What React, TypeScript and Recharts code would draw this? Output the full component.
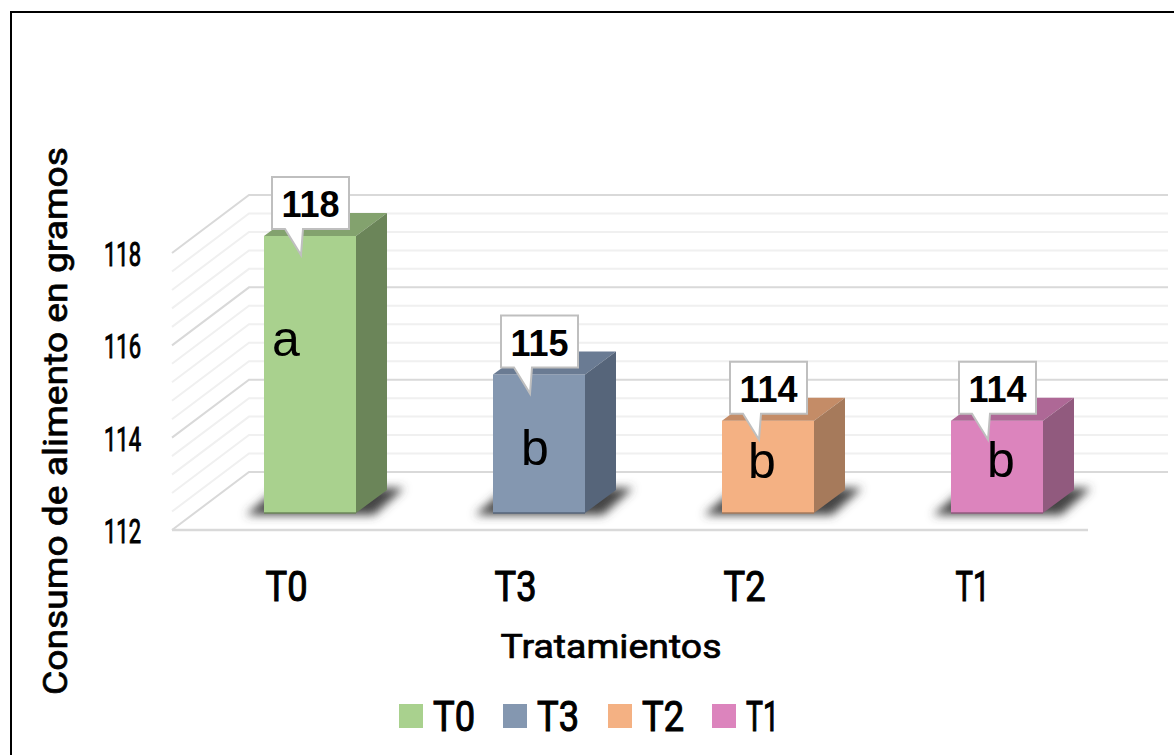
import { Bar, CartesianGrid, ComposedChart, LabelList, Legend, XAxis, YAxis } from "recharts";

const categories = ["T0", "T3", "T2", "T1"];
const consumo = [118, 115, 114, 114];
const letras = ["a", "b", "b", "b"];
const yTicks = [
  112, 112.4, 112.8, 113.2, 113.6, 114, 114.4, 114.8, 115.2, 115.6, 116, 116.4,
  116.8, 117.2, 117.6, 118,
];
const majorTicks = [112, 114, 116, 118];

const frontColors = ["#A9D18E", "#8497B0", "#F4B183", "#DC84BD"];
const topColors = ["#83A26E", "#6A7B93", "#C48C67", "#AE6896"];
const sideColors = ["#6B8559", "#56657A", "#A67A5B", "#915A7E"];

// where the letter sits, relative to the top centre of the bar
const letterOffsets = [
  { dx: -24, dy: 120 },
  { dx: -4, dy: 90 },
  { dx: -6, dy: 57 },
  { dx: 4, dy: 56 },
];

const data = categories.map((name, i) => ({ name, consumo: consumo[i] }));

const PLOT_LEFT = 195;
const PLOT_RIGHT = 1111;
const PLOT_BOTTOM = 513;
const FONT = "Roboto, sans-serif";

// the grid line is drawn as a 3D wall: side wall then back wall
function WallLine({ y1, index }: any) {
  const major = index % 5 === 0;
  const stroke = major ? "#D9D9D9" : "#F0F0F0";
  const frontY = y1 + 17;
  const backY = y1 - 41;
  return (
    <g>
      <polyline
        points={`${PLOT_LEFT - 23},${frontY} ${PLOT_LEFT + 54},${backY} ${PLOT_RIGHT + 57},${backY}`}
        fill="none"
        stroke={stroke}
        strokeWidth={2}
      />
      {y1 >= PLOT_BOTTOM - 2 && (
        <line
          x1={PLOT_LEFT - 23}
          y1={frontY}
          x2={PLOT_RIGHT - 23}
          y2={frontY}
          stroke={stroke}
          strokeWidth={2.5}
        />
      )}
    </g>
  );
}

function ValueTick({ y, payload }: any) {
  if (!majorTicks.includes(payload.value)) return <g />;
  return (
    <text
      x={141}
      y={y + 30}
      textAnchor="end"
      fontFamily={FONT}
      fontWeight={400}
      fontSize={33}
      textLength={37}
      lengthAdjust="spacingAndGlyphs"
      stroke="#000"
      strokeWidth={1}
      fill="#000"
    >
      {payload.value}
    </text>
  );
}

function CategoryTick({ x, y, payload }: any) {
  return (
    <text
      x={x - 23 + (payload.value === "T1" ? -1 : 0)}
      y={y + 80}
      textAnchor="middle"
      fontFamily={FONT}
      fontWeight={400}
      fontSize={42}
      textLength={payload.value === "T1" ? 34 : 42}
      lengthAdjust="spacingAndGlyphs"
      stroke="#000"
      strokeWidth={1.1}
      fill="#000"
    >
      {payload.value}
    </text>
  );
}

function Bar3D({ x, y, width, height, index }: any) {
  const dx = 31;
  const dy = 23;
  const bottom = y + height;
  const right = x + width;
  const off = letterOffsets[index];
  return (
    <g>
      <polygon
        points={`${x - 18},${bottom + 2} ${right + 18},${bottom + 2} ${right + 48},${bottom - 25} ${x + 14},${bottom - 25}`}
        fill="#444"
        filter="url(#floorShadow)"
      />
      <rect x={x} y={y} width={width} height={height} fill={frontColors[index]} />
      <line x1={x} y1={bottom} x2={right} y2={bottom} stroke={sideColors[index]} strokeWidth={1.5} />
      <polygon
        points={`${x},${y} ${x + dx},${y - dy} ${right + dx},${y - dy} ${right},${y}`}
        fill={topColors[index]}
      />
      <polygon
        points={`${right},${y} ${right + dx},${y - dy} ${right + dx},${bottom - dy} ${right},${bottom}`}
        fill={sideColors[index]}
      />
      <text
        x={x + width / 2 + off.dx}
        y={y + off.dy}
        textAnchor="middle"
        fontFamily="'Liberation Sans', Arial, sans-serif"
        fontSize={50}
        fill="#000"
      >
        {letras[index]}
      </text>
    </g>
  );
}

function Callout({ x, y, value }: any) {
  const l = x + 8;
  const r = x + 85;
  const t = y - 59;
  const b = y - 7;
  return (
    <g>
      <polygon
        points={`${l},${t} ${r},${t} ${r},${b} ${x + 39},${b} ${x + 37},${y + 19} ${x + 21},${b} ${l},${b}`}
        fill="#fff"
        stroke="#BFBFBF"
        strokeWidth={2}
      />
      <text
        x={(l + r) / 2}
        y={y - 19}
        textAnchor="middle"
        fontFamily="'Liberation Sans', Arial, sans-serif"
        fontWeight={700}
        fontSize={36}
        fill="#000"
      >
        {value}
      </text>
    </g>
  );
}

function LegendRow() {
  return (
    <div style={{ display: "flex", alignItems: "center", height: 40, fontFamily: FONT }}>
      {categories.map((name, i) => (
        <div key={name} style={{ display: "flex", alignItems: "center", width: 104.3, height: 40 }}>
          <div style={{ width: 24, height: 24, background: frontColors[i], marginRight: 9 }} />
          <svg width={60} height={60} style={{ flex: "none", overflow: "visible" }}>
            <text
              x={1}
              y={45}
              fontFamily={FONT}
              fontWeight={400}
              fontSize={42}
              textLength={name === "T1" ? 33 : 42}
              lengthAdjust="spacingAndGlyphs"
              stroke="#000"
              strokeWidth={1.1}
              fill="#000"
            >
              {name}
            </text>
          </svg>
        </div>
      ))}
    </div>
  );
}

export default function App() {
  return (
    <div style={{ position: "absolute", left: 0, top: 0, width: 1174, height: 755, overflow: "hidden", background: "#fff" }}>
      <div
        style={{
          position: "absolute",
          left: 10,
          top: 11,
          width: 1200,
          height: 800,
          borderTop: "2px solid #000",
          borderLeft: "2px solid #000",
        }}
      />
      <ComposedChart
        width={1174}
        height={755}
        data={data}
        margin={{ top: 236, right: 63, bottom: 0, left: 0 }}
        style={{ position: "absolute", left: 0, top: 0 }}
      >
        <defs>
          <filter id="floorShadow" x="-30%" y="-60%" width="160%" height="220%">
            <feGaussianBlur stdDeviation="5" />
          </filter>
        </defs>
        <CartesianGrid vertical={false} horizontalValues={yTicks} horizontal={(props: any) => <WallLine {...props} />} />
        <YAxis
          type="number"
          width={195}
          domain={[112, 118]}
          ticks={yTicks}
          interval={0}
          axisLine={false}
          tickLine={false}
          tick={<ValueTick />}
        />
        <XAxis
          dataKey="name"
          height={202}
          axisLine={false}
          tickLine={false}
          tick={<CategoryTick />}
          label={{
            value: "Tratamientos",
            position: "insideTop",
            offset: 0,
            content: () => (
              <text
                x={611}
                y={658}
                textAnchor="middle"
                fontFamily={FONT}
                fontWeight={400}
                fontSize={34}
                textLength={221}
                lengthAdjust="spacingAndGlyphs"
                stroke="#000"
                strokeWidth={0.7}
                fill="#000"
              >
                Tratamientos
              </text>
            ),
          }}
        />
        <Legend
          content={<LegendRow />}
          wrapperStyle={{ position: "absolute", left: 399, top: 696, width: "auto" }}
        />
        <Bar dataKey="consumo" barSize={92} isAnimationActive={false} shape={<Bar3D />}>
          <LabelList dataKey="consumo" content={<Callout />} />
        </Bar>
      </ComposedChart>
      <svg width={100} height={755} style={{ position: "absolute", left: 0, top: 0 }}>
        <text
          transform="translate(67,421) rotate(-90)"
          textAnchor="middle"
          fontFamily={FONT}
          fontWeight={400}
          fontSize={34}
          textLength={548}
          lengthAdjust="spacingAndGlyphs"
          stroke="#000"
          strokeWidth={0.7}
          fill="#000"
        >
          Consumo de alimento en gramos
        </text>
      </svg>
    </div>
  );
}
